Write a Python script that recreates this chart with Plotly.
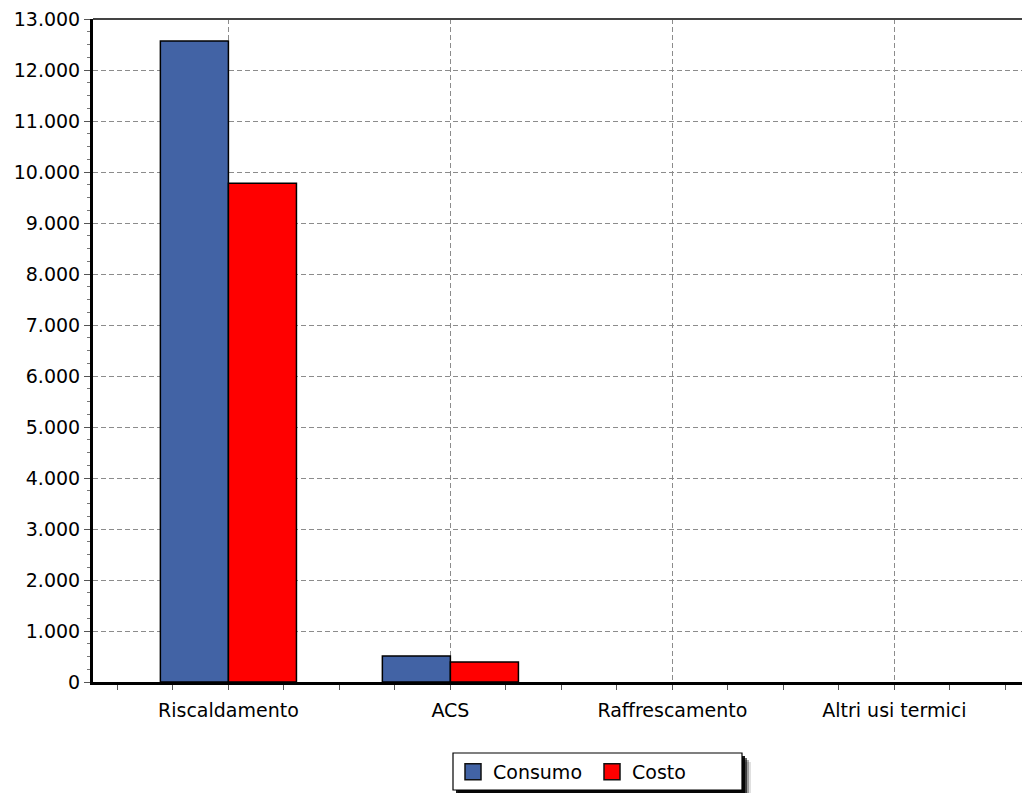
import plotly.graph_objects as go

categories = ["Riscaldamento", "ACS", "Raffrescamento", "Altri usi termici"]
consumo = [12570, 510, 0, 0]
costo = [9780, 390, 0, 0]
series_names = ["Consumo", "Costo"]
series_colors = ["#4263A5", "#FF0000"]
y_ticks = list(range(0, 13001, 1000))

W, H = 1022, 793
L, R, T, B = 93, 0, 19, 111
pw, ph = W - L - R, H - T - B

def px_x(p):
    return (p - L) / pw

def px_y(p):
    return (H - B - p) / ph

xpos = list(range(len(categories)))

fig = go.Figure()
for name, vals, col in zip(series_names, [consumo, costo], series_colors):
    fig.add_trace(go.Bar(
        x=xpos, y=vals, name=name, showlegend=False,
        marker=dict(color=col, line=dict(color="#000000",
                                         width=[1.5 if v else 0 for v in vals]))))
for name, col in zip(series_names, series_colors):
    fig.add_trace(go.Scatter(
        x=[None], y=[None], name=name, mode="markers",
        marker=dict(symbol="square", size=16, color=col,
                    line=dict(color="#111111", width=1.5))))

font = dict(family="DejaVu Sans", size=19, color="#000000")

# legend box with drop shadow
LX0, LX1, LY0, LY1 = 453, 742, 753, 790
legend_shapes = []
for off, op in [(9, 0.12), (7, 0.3), (5, 0.6), (3, 0.9)]:
    legend_shapes.append(dict(
        type="rect", xref="paper", yref="paper",
        x0=px_x(LX0 + off), x1=px_x(LX1 + off), y0=px_y(LY1 + off), y1=px_y(LY0 + off),
        fillcolor="#000000", opacity=op, line=dict(width=0), layer="above"))
legend_shapes.append(dict(
    type="rect", xref="paper", yref="paper",
    x0=px_x(LX0), x1=px_x(LX1), y0=px_y(LY1), y1=px_y(LY0),
    fillcolor="#ffffff", line=dict(color="#000000", width=1.2), layer="above"))

fig.update_layout(
    width=W, height=H,
    margin=dict(l=L, r=R, t=T, b=B, pad=0),
    paper_bgcolor="white", plot_bgcolor="white",
    barmode="group", bargap=0.387, bargroupgap=0,
    separators=",.",
    font=font,
    showlegend=True,
    legend=dict(orientation="h", x=px_x(LX0), y=px_y(LY0), xanchor="left", yanchor="top",
                bgcolor="rgba(0,0,0,0)", borderwidth=0,
                entrywidth=94, entrywidthmode="pixels",
                font=dict(family="DejaVu Sans", size=19, color="#000000"), itemclick=False),
    xaxis=dict(
        range=[-0.61, 3.575], tickmode="array", tickvals=xpos, ticktext=categories,
        showline=True, linecolor="#000000", linewidth=3,
        ticks="outside", ticklen=5, tickcolor="#555555", tickwidth=1,
        ticklabelstandoff=4,
        showgrid=True, gridcolor="#8c8c8c", griddash="5px,3px", gridwidth=1,
        zeroline=False,
        minor=dict(dtick=0.25, ticks="outside", ticklen=5, tickcolor="#555555", showgrid=False),
    ),
    yaxis=dict(
        range=[0, 13000], tickmode="array", tickvals=y_ticks, tickformat=",d",
        showline=True, linecolor="#000000", linewidth=3,
        ticks="outside", ticklen=6, tickcolor="#555555", tickwidth=1,
        showgrid=True, gridcolor="#8c8c8c", griddash="5px,3px", gridwidth=1,
        zeroline=False,
        minor=dict(dtick=250, ticks="outside", ticklen=3, tickcolor="#777777", showgrid=False),
    ),
    shapes=[
        dict(type="line", xref="paper", yref="paper", x0=0, x1=1, y0=1, y1=1,
             line=dict(color="#444444", width=2), layer="above"),
    ] + legend_shapes,
)

fig.write_html("out.html")
